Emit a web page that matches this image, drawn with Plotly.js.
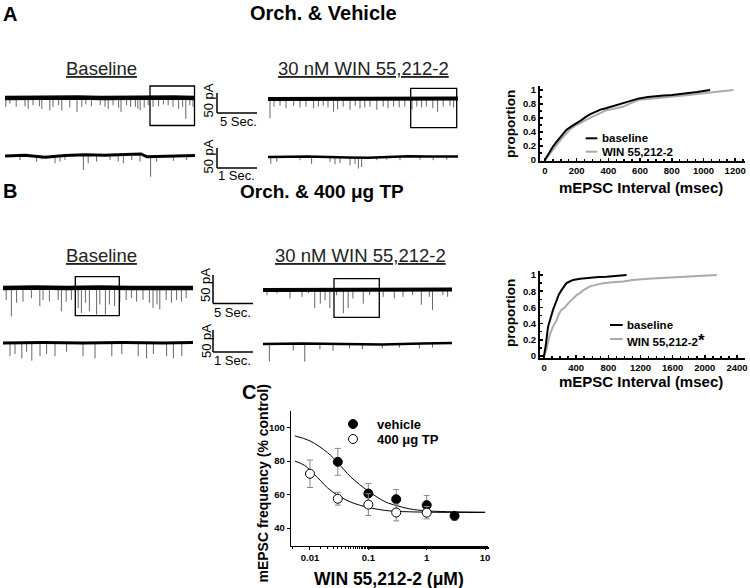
<!DOCTYPE html>
<html><head><meta charset="utf-8">
<script src="https://cdn.plot.ly/plotly-3.0.1.min.js"></script>
<style>html,body{margin:0;padding:0;background:#fff}#chart{width:750px;height:588px}</style>
</head><body><div id="chart"></div>
<script>
// ---------- DATA ----------
// Panel A traces: spike times (s) and spike depths (pA, downward)
const A1_t = [0.1,0.6,1.4,2.5,2.9,3.5,4.3,4.6,5.6,6.0,6.7,7.1,8.1,9.0,9.6,10.1,10.8,11.9,12.5,12.9,13.5,14.2,14.5,15.2,15.7,16.3,16.6,16.9,17.4,17.9,18.5,19.2,19.8,20.4,21.0,21.7,22.2,22.6,23.1,23.5];
const A1_a = [22,14,22,21,27,18,21,27,31,22,18,31,24,35,22,16,21,18,22,27,18,24,35,18,22,22,27,31,24,18,22,21,16,18,22,27,22,52,18,22];
const A1_wt = [0,3,6,9,12,15,18,21,23.75];
const A1_wy = [0,1,0,1,0,1,0,1,0];

const A2_t = [0.25,0.75,1.5,2.25,3.2,4.0,4.75,5.7,6.3,6.9,7.5,8.2,8.7,9.4,10.25,10.9,11.5,12.1,12.75,13.6,14.4,15.0,15.7,16.4,17.1,18.0,18.6,19.2,19.8,20.6,21.2,21.9,22.75,23.2];
const A2_a = [48,19,17,23,17,21,19,23,19,17,21,32,26,19,27,17,23,21,19,27,19,23,19,21,19,26,19,21,19,23,32,19,17,21];
const A2_wt = [0,3,6,9,12,15,18,21,23.75];
const A2_wy = [0,0,1,0,0,1,0,0,1];

const A3_t = [0.375,0.79,0.92,1.25,1.375,1.5,1.96,2.08,2.29,2.625,2.83,2.96,3.17,3.375,3.64,3.79,4.21,4.54];
const A3_a = [10,14,8,18,14,10,35,18,14,10,14,18,10,14,52,14,12,10];
const A3_wt = [0,0.5,1,1.5,2,2.5,3,3.4,3.55,3.8,4.2,4.75];
const A3_wy = [0,2,-3,1,3,2,4,5,-2,-1,0,1];

const A4_t = [0.07,0.22,0.8,1.09,1.55,1.675,1.8,2.05,2.175,2.26,2.34,2.72,2.97,3.3,3.8,4.13,4.47];
const A4_a = [17,12,8,17,12,18,15,21,17,29,25,8,7,8,7,8,7];
const A4_wt = [0,1,2,2.5,3,3.5,4,4.75];
const A4_wy = [0,1,-1,-2,0,2,1,1];

// Panel B traces
const B1_t = [0.4,1.05,1.7,2.5,3.55,4.6,5.0,5.8,6.9,7.3,7.9,8.55,9.4,9.8,10.3,10.8,11.7,12.1,12.8,13.3,13.95,14.6,15.4,16.05,16.7,17.5,18.3,18.75,19.25,19.6,20.4,21.05,21.7,22.3,22.9];
const B1_a = [21,50,26,24,18,32,21,24,21,41,24,21,35,44,26,41,47,29,47,29,32,24,21,18,24,21,26,35,29,38,21,26,21,24,18];
const B1_wt = [0,4,8,12,16,20,23.75];
const B1_wy = [0,1,0,1,0,1,0];

const B2_t = [0.5,1.75,3.4,4.9,5.7,6.5,7.2,7.8,8.4,9.25,10.1,10.7,11.3,12.6,13.4,15.1,16.5,17.6,18.8,19.9,20.9,21.3,22.6,23.2];
const B2_a = [9,6,15,12,6,32,24,18,32,9,41,32,15,24,9,12,15,12,9,26,12,35,9,12];
const B2_wt = [0,4,8,12,16,20,23.75];
const B2_wy = [0,0,1,0,1,0,1];

const B3_t = [0.175,0.3,0.47,0.59,0.72,0.925,1.09,1.3,1.59,2.0,2.3,2.72,2.97,3.38,3.59,3.76,4.09,4.26,4.47];
const B3_a = [30,25,35,20,40,30,25,30,20,30,35,30,25,30,35,25,30,35,30];
const B3_wt = [0,1,2,3,4,4.75];
const B3_wy = [0,1,0,1,0,1];

const B4_t = [0.16,0.76,1.05,1.43,1.76,2.175,2.5,3.0,3.43,3.93,4.26];
const B4_a = [40,15,40,12,15,10,12,10,8,10,8];
const B4_wt = [0,1,2,3,4,4.75];
const B4_wy = [0,1,0,-1,1,2];

// Cumulative probability plots (interval ms, proportion)
const cdfA_base_x = [0,20,50,73,100,135,160,198,230,260,290,323,350,385,430,490,540,594,650,698,750,802,850,906,960,1042];
const cdfA_base_y = [0,0.08,0.19,0.26,0.33,0.43,0.47,0.52,0.57,0.62,0.66,0.69,0.72,0.74,0.77,0.81,0.85,0.88,0.9,0.905,0.92,0.93,0.94,0.95,0.97,1.0];
const cdfA_win_x = [0,20,50,73,100,135,160,198,230,260,290,323,385,430,490,540,594,650,698,750,802,850,906,1000,1100,1190];
const cdfA_win_y = [0,0.06,0.15,0.21,0.29,0.38,0.44,0.5,0.54,0.57,0.61,0.64,0.71,0.73,0.76,0.81,0.86,0.87,0.88,0.9,0.91,0.92,0.93,0.955,0.975,1.0];
const cdfB_base_x = [0,20,50,80,112,135,154,185,216,250,279,320,362,450,570,680,778,900,986,1027];
const cdfB_base_y = [0,0.12,0.36,0.47,0.57,0.63,0.69,0.76,0.81,0.86,0.9,0.92,0.94,0.955,0.97,0.975,0.98,0.99,0.995,1.0];
const cdfB_win_x = [0,30,71,110,154,185,216,260,300,350,403,450,487,570,650,736,850,986,1100,1186,1300,1400,1600,1818,2000,2150];
const cdfB_win_y = [0,0.08,0.26,0.36,0.44,0.52,0.57,0.6,0.65,0.7,0.75,0.78,0.81,0.86,0.88,0.9,0.91,0.92,0.94,0.95,0.955,0.96,0.97,0.98,0.99,1.0];
const cdfA_ticks = [0,200,400,600,800,1000,1200];
const cdfB_ticks = [0,400,800,1200,1600,2000,2400];
const cdf_yticks = [0,0.2,0.4,0.6,0.8,1];

// Panel C: concentration-response (uM, % control)
const conc_vehicle = [0.03,0.1,0.3,1,3];
const freq_vehicle = [79.5,60.6,57.2,53.7,47.3];
const sem_vehicle  = [8,6,5.8,5.7,2.5];
const conc_tp = [0.01,0.03,0.1,0.3,1];
const freq_tp = [72.4,57.5,54,49.3,49.2];
const sem_tp  = [8.2,3.8,6.5,5,3.7];
const fit_vehicle_x = [0.0055,0.01,0.02,0.03,0.05,0.1,0.2,0.3,0.5,1,3,10];
const fit_vehicle_y = [95,92,85,79,70.5,62,55.5,53.5,51.5,50.3,49.7,49.5];
const fit_tp_x = [0.0055,0.008,0.01,0.015,0.02,0.03,0.05,0.1,0.2,0.3,1,10];
const fit_tp_y = [80,77.5,74.5,68.5,64,59.5,55.5,52.3,50.5,50,49.5,49.3];
const c_xticks = [0.01,0.1,1,10];
const c_xlabels = ['0.01','0.1','1','10'];
const c_yticks = [40,60,80,100];

// ---------- LAYOUT HELPERS ----------
const W = 750, H = 588;
const PX = x => x / W, PY = y => 1 - y / H;
const FONT = 'Arial, "Liberation Sans", Helvetica, sans-serif';
const axKey = (c, n) => (n === 1 ? c + 'axis' : c + 'axis' + n);
const axRef = (c, n) => (n === 1 ? c : c + n);

const data = [];
const layout = {
  width: W, height: H, margin: {l:0, r:0, t:0, b:0},
  paper_bgcolor: '#fff', plot_bgcolor: 'rgba(0,0,0,0)',
  showlegend: false, font: {family: FONT, color: '#000'},
  shapes: [], annotations: []
};

// ephys recordings
const recs = [
  {n:1, l:5,   r:195, t:82,  b:128, base:98,  k:0.4,   dur:23.75, bw:4.5, st:A1_t, sa:A1_a, wt:A1_wt, wy:A1_wy},
  {n:2, l:268, r:458, t:82,  b:128, base:99,  k:0.4,   dur:23.75, bw:4,   st:A2_t, sa:A2_a, wt:A2_wt, wy:A2_wy},
  {n:3, l:5,   r:195, t:140, b:182, base:156, k:0.4,   dur:4.75,  bw:3,   st:A3_t, sa:A3_a, wt:A3_wt, wy:A3_wy},
  {n:4, l:268, r:458, t:140, b:182, base:157, k:0.4,   dur:4.75,  bw:2.5, st:A4_t, sa:A4_a, wt:A4_wt, wy:A4_wy},
  {n:5, l:3,   r:193, t:268, b:322, base:288, k:0.567, dur:23.75, bw:4.5, st:B1_t, sa:B1_a, wt:B1_wt, wy:B1_wy},
  {n:6, l:263, r:452, t:268, b:322, base:290, k:0.567, dur:23.75, bw:4,   st:B2_t, sa:B2_a, wt:B2_wt, wy:B2_wy},
  {n:7, l:3,   r:193, t:328, b:372, base:343, k:0.44,  dur:4.75,  bw:3,   st:B3_t, sa:B3_a, wt:B3_wt, wy:B3_wy},
  {n:8, l:263, r:452, t:328, b:372, base:344, k:0.44,  dur:4.75,  bw:2.5, st:B4_t, sa:B4_a, wt:B4_wt, wy:B4_wy}
];
recs.forEach(p => {
  const sx = [], sy = [];
  p.st.forEach((t, i) => { sx.push(t, t, null); sy.push(0, -p.sa[i], null); });
  data.push({x: sx, y: sy, xaxis: axRef('x', p.n), yaxis: axRef('y', p.n), mode: 'lines',
             line: {color: '#666', width: 1}, hoverinfo: 'skip'});
  data.push({x: p.wt, y: p.wy, xaxis: axRef('x', p.n), yaxis: axRef('y', p.n), mode: 'lines',
             line: {color: '#000', width: p.bw}, hoverinfo: 'skip'});
  layout[axKey('x', p.n)] = {domain: [PX(p.l), PX(p.r)], range: [0, p.dur], visible: false, anchor: axRef('y', p.n)};
  layout[axKey('y', p.n)] = {domain: [PY(p.b), PY(p.t)], range: [-(p.b - p.base) / p.k, (p.base - p.t) / p.k],
                             visible: false, anchor: axRef('x', p.n)};
});

// CDF panels
const tickFont = {family: FONT, size: 9.5, weight: 'bold', color: '#000'};
function cdfAxes(n, l, r, t, b, xr, yr, xt, minorDx) {
  layout[axKey('x', n)] = {domain: [PX(l), PX(r)], range: xr, anchor: axRef('y', n), showgrid: false, zeroline: false,
    showline: true, linecolor: '#000', linewidth: 2, ticks: 'inside', ticklen: 3, tickwidth: 1.5, tickcolor: '#000',
    tickvals: xt, tickfont: tickFont, minor: {dtick: minorDx, ticks: 'inside', ticklen: 2, tickcolor: '#000', showgrid: false}};
  layout[axKey('y', n)] = {domain: [PY(b), PY(t)], range: yr, anchor: axRef('x', n), showgrid: false, zeroline: false,
    showline: true, linecolor: '#000', linewidth: 2, ticks: 'inside', ticklen: 3, tickwidth: 1.5, tickcolor: '#000',
    tickvals: cdf_yticks, ticktext: cdf_yticks.map(v => String(v)), tickfont: tickFont,
    minor: {dtick: 0.1, ticks: 'inside', ticklen: 2, tickcolor: '#000', showgrid: false}};
}
cdfAxes(9, 540, 745, 86, 161, [-31, 1262], [-0.014, 1.057], cdfA_ticks, 50);
cdfAxes(10, 540, 745, 271, 358, [-50, 2500], [-0.025, 1.05], cdfB_ticks, 100);
data.push({x: cdfA_win_x, y: cdfA_win_y, xaxis: 'x9', yaxis: 'y9', mode: 'lines', line: {color: '#aaa', width: 2}, name: 'WIN 55,212-2'});
data.push({x: cdfA_base_x, y: cdfA_base_y, xaxis: 'x9', yaxis: 'y9', mode: 'lines', line: {color: '#000', width: 2}, name: 'baseline'});
data.push({x: cdfB_win_x, y: cdfB_win_y, xaxis: 'x10', yaxis: 'y10', mode: 'lines', line: {color: '#aaa', width: 2}, name: 'WIN 55,212-2'});
data.push({x: cdfB_base_x, y: cdfB_base_y, xaxis: 'x10', yaxis: 'y10', mode: 'lines', line: {color: '#000', width: 2}, name: 'baseline'});

// Panel C
layout.xaxis11 = {domain: [PX(290.7), PX(488)], type: 'log', range: [-2.33, 1.05], anchor: 'y11', showgrid: false, zeroline: false,
  showline: true, linecolor: '#000', linewidth: 1, ticks: 'outside', ticklen: 3, tickcolor: '#000',
  tickvals: c_xticks, ticktext: c_xlabels, tickfont: tickFont,
  minor: {ticks: 'outside', ticklen: 2, tickcolor: '#000', showgrid: false}};
layout.yaxis11 = {domain: [PY(545.7), PY(410.7)], range: [29.5, 110], anchor: 'x11', showgrid: false, zeroline: false,
  showline: true, linecolor: '#000', linewidth: 1, ticks: 'outside', ticklen: 3, tickcolor: '#000',
  tickvals: c_yticks, tickfont: tickFont};
data.push({x: fit_vehicle_x, y: fit_vehicle_y, xaxis: 'x11', yaxis: 'y11', mode: 'lines', line: {color: '#000', width: 1, shape: 'spline'}, hoverinfo: 'skip'});
data.push({x: fit_tp_x, y: fit_tp_y, xaxis: 'x11', yaxis: 'y11', mode: 'lines', line: {color: '#000', width: 1, shape: 'spline'}, hoverinfo: 'skip'});
data.push({x: conc_vehicle, y: freq_vehicle, xaxis: 'x11', yaxis: 'y11', mode: 'markers', name: 'vehicle',
  error_y: {type: 'data', array: sem_vehicle, color: '#888', thickness: 1, width: 3},
  marker: {symbol: 'circle', size: 9, color: '#000', line: {color: '#000', width: 1}}});
data.push({x: conc_tp, y: freq_tp, xaxis: 'x11', yaxis: 'y11', mode: 'markers', name: '400 μg TP',
  error_y: {type: 'data', array: sem_tp, color: '#888', thickness: 1, width: 3},
  marker: {symbol: 'circle', size: 9, color: '#fff', line: {color: '#000', width: 1}}});

// ---------- SHAPES ----------
const S = layout.shapes;
function rect(x0, y0, x1, y1) {
  S.push({type: 'rect', xref: 'paper', yref: 'paper', x0: PX(x0), x1: PX(x1), y0: PY(y1), y1: PY(y0), line: {color: '#000', width: 1.3}});
}
function line(x0, y0, x1, y1, color, width) {
  S.push({type: 'line', xref: 'paper', yref: 'paper', x0: PX(x0), x1: PX(x1), y0: PY(y0), y1: PY(y1), line: {color: color, width: width}});
}
function scaleBar(x, yTop, yBot, len) {
  line(x, yTop, x, yBot, '#000', 1.5);
  line(x, yBot, x + len, yBot, '#000', 1.5);
}
rect(150, 86, 194.5, 125.5);
rect(410.7, 88.3, 456.7, 127.7);
rect(75.3, 276.7, 119.3, 315.7);
rect(334, 278.7, 379.3, 317.3);
scaleBar(217, 93, 113, 40);
scaleBar(217, 148, 168, 40);
scaleBar(213, 275, 303.5, 40);
scaleBar(213, 330, 352, 40);
// CDF legend samples
line(585.7, 138.3, 597.3, 138.3, '#000', 2);
line(585.7, 151.7, 597.3, 151.7, '#aaa', 2);
line(610, 325, 622.7, 325, '#000', 2);
line(610, 339, 622.7, 339, '#aaa', 2);
// C legend symbols
S.push({type: 'circle', xref: 'paper', yref: 'paper', x0: PX(348.5), x1: PX(357.5), y0: PY(428.5), y1: PY(419.5), fillcolor: '#000', line: {color: '#000', width: 1}});
S.push({type: 'circle', xref: 'paper', yref: 'paper', x0: PX(348.5), x1: PX(357.5), y0: PY(443.5), y1: PY(434.5), fillcolor: '#fff', line: {color: '#000', width: 1}});

// ---------- TEXT ----------
const A = layout.annotations;
function txt(text, x, y, size, opts) {
  opts = opts || {};
  A.push(Object.assign({text: text, xref: 'paper', yref: 'paper', x: PX(x), y: PY(y), showarrow: false,
    xanchor: 'center', yanchor: 'middle',
    font: {family: FONT, size: size, color: opts.color || '#000', weight: opts.bold ? 'bold' : 'normal'}}, opts.extra || {}));
}
txt('A', 1, 14, 20, {bold: true, extra: {xanchor: 'left'}});
txt('Orch. &amp; Vehicle', 323, 13, 20, {bold: true});
txt('B', 1, 191, 20, {bold: true, extra: {xanchor: 'left'}});
txt('Orch. &amp; 400 μg TP', 322, 192, 19, {bold: true});
txt('<u>Baseline</u>', 101.5, 69, 18.5, {color: '#222'});
txt('<u>30 nM WIN 55,212-2</u>', 363, 69, 18.5, {color: '#222'});
txt('<u>Baseline</u>', 101.5, 255, 18.5, {color: '#222'});
txt('<u>30 nM WIN 55,212-2</u>', 360, 255, 18.5, {color: '#222'});
txt('50 pA', 207.5, 101, 13, {extra: {textangle: -90}});
txt('5 Sec.', 238, 121, 13);
txt('50 pA', 207.5, 157, 13, {extra: {textangle: -90}});
txt('1 Sec.', 236, 175, 13);
txt('50 pA', 206, 285, 13, {extra: {textangle: -90}});
txt('5 Sec.', 233, 312, 13);
txt('50 pA', 206, 341, 13, {extra: {textangle: -90}});
txt('1 Sec.', 233, 360, 13);
// CDF labels
txt('proportion', 510, 124, 13.5, {bold: true, extra: {textangle: -90}});
txt('mEPSC Interval (msec)', 641, 187, 15, {bold: true});
txt('baseline', 600, 138.3, 11.5, {bold: true, extra: {xanchor: 'left'}});
txt('WIN 55,212-2', 600, 151.7, 11.5, {bold: true, extra: {xanchor: 'left'}});
txt('proportion', 510, 313, 13.5, {bold: true, extra: {textangle: -90}});
txt('mEPSC Interval (msec)', 641, 381, 15, {bold: true});
txt('baseline', 625, 325, 11.5, {bold: true, extra: {xanchor: 'left'}});
txt('WIN 55,212-2<span style="font-size:17px">*</span>', 625, 340, 11.5, {bold: true, extra: {xanchor: 'left'}});
// Panel C labels
txt('C', 240, 392, 20, {bold: true, extra: {xanchor: 'left'}});
txt('mEPSC frequency (% control)', 262.5, 484, 14, {bold: true, extra: {textangle: -90}});
txt('WIN 55,212-2 (μM)', 389, 579, 17.5, {bold: true});
txt('vehicle', 375, 424, 13, {bold: true, extra: {xanchor: 'left'}});
txt('400 μg TP', 375, 439, 13, {bold: true, extra: {xanchor: 'left'}});

Plotly.newPlot('chart', data, layout, {staticPlot: true, displayModeBar: false});
</script>
</body></html>
